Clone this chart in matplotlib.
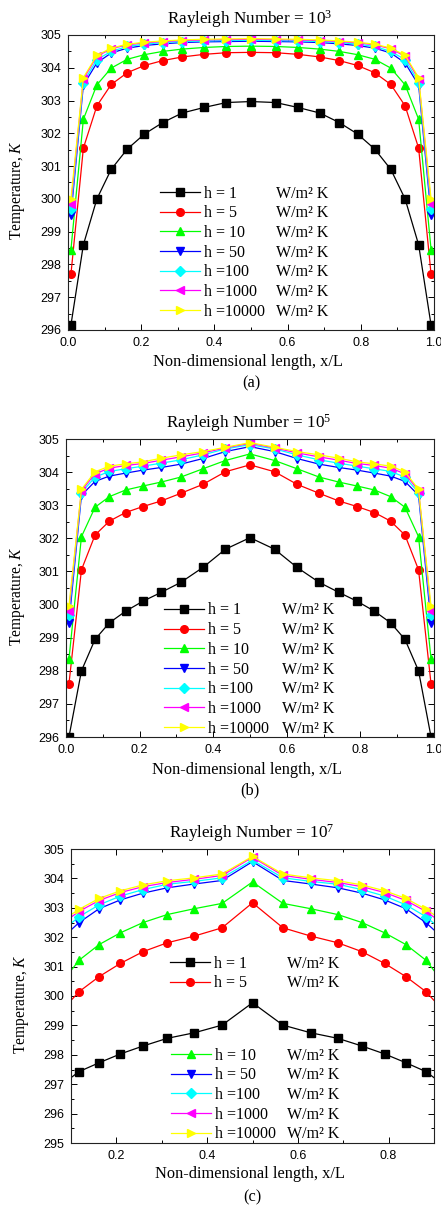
#!/usr/bin/env python3

import matplotlib as mpl
import matplotlib.pyplot as plt
from matplotlib.legend import Legend
from matplotlib.lines import Line2D
from matplotlib.ticker import MultipleLocator, FormatStrFormatter

mpl.rcParams["font.family"] = "Liberation Serif"
mpl.rcParams["mathtext.fontset"] = "custom"
mpl.rcParams["mathtext.rm"] = "Liberation Serif"
mpl.rcParams["mathtext.it"] = "Liberation Serif:italic"

# figure size in px
W, H = 441, 1207

# x positions of the data points (same grid in all three cases)
x_ab = [0.008, 0.042, 0.079, 0.118, 0.162, 0.209, 0.259, 0.312, 0.372, 0.433, 0.5,
        0.567, 0.628, 0.688, 0.741, 0.791, 0.838, 0.882, 0.921, 0.958, 0.992]
x_c = [0.079, 0.118, 0.162, 0.209, 0.259, 0.312, 0.372, 0.433, 0.5,
       0.567, 0.628, 0.688, 0.741, 0.791, 0.838, 0.882, 0.921]

h_labels = ["h = 1", "h = 5", "h = 10", "h = 50", "h =100", "h =1000", "h =10000"]
unit_label = "W/m\u00b2 K"

# Ra = 1e3
a_h1 = [296.15, 298.6, 300.0, 300.9, 301.52, 301.98, 302.33, 302.62, 302.79, 302.94, 302.97,
        302.94, 302.79, 302.62, 302.33, 301.98, 301.52, 300.9, 300.0, 298.6, 296.15]
a_h5 = [297.7, 301.55, 302.84, 303.49, 303.85, 304.07, 304.22, 304.33, 304.41, 304.46, 304.47,
        304.46, 304.41, 304.33, 304.22, 304.07, 303.85, 303.49, 302.84, 301.55, 297.7]
a_h10 = [298.45, 302.43, 303.48, 303.99, 304.26, 304.4, 304.5, 304.57, 304.62, 304.65, 304.66,
         304.65, 304.62, 304.57, 304.5, 304.4, 304.26, 303.99, 303.48, 302.43, 298.45]
a_h50 = [299.5, 303.47, 304.15, 304.45, 304.6, 304.68, 304.73, 304.77, 304.79, 304.8, 304.81,
         304.8, 304.79, 304.77, 304.73, 304.68, 304.6, 304.45, 304.15, 303.47, 299.5]
a_h100 = [299.68, 303.55, 304.25, 304.5, 304.65, 304.72, 304.77, 304.8, 304.82, 304.83, 304.84,
          304.83, 304.82, 304.8, 304.77, 304.72, 304.65, 304.5, 304.25, 303.55, 299.68]
a_h1000 = [299.85, 303.65, 304.35, 304.58, 304.7, 304.76, 304.8, 304.83, 304.85, 304.86, 304.87,
           304.86, 304.85, 304.83, 304.8, 304.76, 304.7, 304.58, 304.35, 303.65, 299.85]
a_h10000 = [300.0, 303.7, 304.38, 304.6, 304.72, 304.78, 304.82, 304.85, 304.87, 304.88, 304.89,
            304.88, 304.87, 304.85, 304.82, 304.78, 304.72, 304.6, 304.38, 303.7, 300.0]

# Ra = 1e5
b_h1 = [296.0, 298.0, 298.95, 299.45, 299.8, 300.1, 300.37, 300.67, 301.12, 301.67, 302.02,
        301.67, 301.12, 300.67, 300.37, 300.1, 299.8, 299.45, 298.95, 298.0, 296.0]
b_h5 = [297.6, 301.05, 302.1, 302.52, 302.78, 302.96, 303.13, 303.36, 303.63, 304.01, 304.22,
        304.01, 303.63, 303.36, 303.13, 302.96, 302.78, 302.52, 302.1, 301.05, 297.6]
b_h10 = [298.35, 302.05, 302.94, 303.26, 303.46, 303.58, 303.7, 303.85, 304.1, 304.35, 304.55,
         304.35, 304.1, 303.85, 303.7, 303.58, 303.46, 303.26, 302.94, 302.05, 298.35]
b_h50 = [299.45, 303.3, 303.72, 303.88, 303.97, 304.06, 304.14, 304.24, 304.41, 304.62, 304.77,
         304.62, 304.41, 304.24, 304.14, 304.06, 303.97, 303.88, 303.72, 303.3, 299.45]
b_h100 = [299.68, 303.38, 303.85, 304.02, 304.1, 304.18, 304.27, 304.37, 304.52, 304.7, 304.83,
          304.7, 304.52, 304.37, 304.27, 304.18, 304.1, 304.02, 303.85, 303.38, 299.68]
b_h1000 = [299.82, 303.44, 303.95, 304.12, 304.2, 304.26, 304.36, 304.46, 304.58, 304.73, 304.87,
           304.73, 304.58, 304.46, 304.36, 304.26, 304.2, 304.12, 303.95, 303.44, 299.82]
b_h10000 = [299.95, 303.48, 304.01, 304.18, 304.25, 304.31, 304.42, 304.52, 304.62, 304.75, 304.89,
            304.75, 304.62, 304.52, 304.42, 304.31, 304.25, 304.18, 304.01, 303.48, 299.95]

# Ra = 1e7
c_h1 = [296.98, 297.43, 297.73, 298.03, 298.3, 298.56, 298.75, 299.01, 299.77,
        299.01, 298.75, 298.56, 298.3, 298.03, 297.73, 297.43, 296.98]
c_h5 = [299.5, 300.15, 300.66, 301.11, 301.51, 301.81, 302.04, 302.32, 303.17,
        302.32, 302.04, 301.81, 301.51, 301.11, 300.66, 300.15, 299.5]
c_h10 = [300.45, 301.22, 301.75, 302.15, 302.5, 302.77, 302.97, 303.15, 303.88,
         303.15, 302.97, 302.77, 302.5, 302.15, 301.75, 301.22, 300.45]
c_h50 = [301.95, 302.5, 302.97, 303.27, 303.5, 303.68, 303.81, 303.93, 304.57,
         303.93, 303.81, 303.68, 303.5, 303.27, 302.97, 302.5, 301.95]
c_h100 = [302.2, 302.7, 303.1, 303.4, 303.62, 303.8, 303.9, 304.02, 304.62,
          304.02, 303.9, 303.8, 303.62, 303.4, 303.1, 302.7, 302.2]
c_h1000 = [302.45, 302.88, 303.25, 303.52, 303.72, 303.86, 303.97, 304.1, 304.72,
           304.1, 303.97, 303.86, 303.72, 303.52, 303.25, 302.88, 302.45]
c_h10000 = [302.55, 302.95, 303.32, 303.58, 303.78, 303.92, 304.02, 304.15, 304.75,
            304.15, 304.02, 303.92, 303.78, 303.58, 303.32, 302.95, 302.55]

colors = ["black", "red", "#00ff00", "blue", "cyan", "magenta", "yellow"]
markers = ["s", "o", "^", "v", "D", "<", ">"]

TITLE_FS = 12.3
XLAB_FS = 11.8
YLAB_FS = 11.2
LEG_FS = 11.5
TICK_FS = 9.0


def fx(px):
    return px / W


def fy(py):
    return 1 - py / H


def add_legend(ax, fig, lines, labels, x_h, x_w, y_top):
    # two legends side by side: handles + "h = .." and the unit column
    opts = dict(loc="upper left", bbox_transform=fig.transFigure, frameon=False,
                borderpad=0, borderaxespad=0, labelspacing=0.23, fontsize=LEG_FS)
    leg = Legend(ax, lines, labels, bbox_to_anchor=(fx(x_h), fy(y_top)),
                 handlelength=2.5, handletextpad=0.25, numpoints=1, **opts)
    ax.add_artist(leg)
    blank = [Line2D([], [], ls="none") for _ in labels]
    leg2 = Legend(ax, blank, [unit_label] * len(labels), bbox_to_anchor=(fx(x_w), fy(y_top)),
                  handlelength=0, handletextpad=0, **opts)
    ax.add_artist(leg2)


def draw_panel(fig, rect, x, series, ra, xlim, ylim, xticks, caption, ylab_x, texts_y, legends):
    l, t, r, b = rect
    ax = fig.add_axes([fx(l), fy(b), fx(r) - fx(l), (b - t) / H])
    lines = []
    for y, c, m in zip(series, colors, markers):
        ln, = ax.plot(x, y, color=c, marker=m, markersize=5.5, lw=0.9,
                      markeredgecolor=c, markerfacecolor=c)
        lines.append(ln)

    ax.set_xlim(xlim)
    ax.set_ylim(ylim)
    ax.set_xticks(xticks)
    ax.xaxis.set_minor_locator(MultipleLocator(0.1))
    ax.yaxis.set_major_locator(MultipleLocator(1))
    ax.yaxis.set_minor_locator(MultipleLocator(0.5))
    ax.xaxis.set_major_formatter(FormatStrFormatter("%.1f"))
    ax.yaxis.set_major_formatter(FormatStrFormatter("%d"))
    ax.tick_params(which="both", direction="in", top=True, right=True, width=0.7)
    ax.tick_params(which="major", length=4, labelsize=TICK_FS, pad=5)
    ax.tick_params(which="minor", length=2)
    for lab in ax.get_xticklabels() + ax.get_yticklabels():
        lab.set_fontfamily("Liberation Sans")
    for s in ax.spines.values():
        s.set_linewidth(0.8)
        s.set_color("#222222")

    cx = (l + r) / 2
    title_y, xlab_y, cap_y = texts_y
    fig.text(fx(cx - 1), fy(title_y), "Rayleigh Number = 10$^{%d}$" % ra,
             ha="center", va="center", fontsize=TITLE_FS)
    fig.text(fx(cx - 3), fy(xlab_y), "Non-dimensional length, x/L",
             ha="center", va="center", fontsize=XLAB_FS)
    fig.text(fx(cx), fy(cap_y), caption, ha="center", va="center", fontsize=XLAB_FS)
    fig.text(fx(ylab_x), fy((t + b) / 2 + 8), "Temperature, $K$", rotation=90,
             ha="center", va="center", fontsize=YLAB_FS)

    for idx, x_h, x_w, y_top in legends:
        add_legend(ax, fig, [lines[i] for i in idx], [h_labels[i] for i in idx], x_h, x_w, y_top)
    return ax


def main():
    fig = plt.figure(figsize=(W / 100, H / 100), dpi=100)

    draw_panel(fig, (68, 35, 434, 330), x_ab,
               [a_h1, a_h5, a_h10, a_h50, a_h100, a_h1000, a_h10000], 3,
               (0, 1), (296, 305), [0, 0.2, 0.4, 0.6, 0.8, 1.0], "(a)", 18,
               (19, 362, 383), [(range(7), 160, 276, 185.5)])

    draw_panel(fig, (66, 439, 434, 737), x_ab,
               [b_h1, b_h5, b_h10, b_h50, b_h100, b_h1000, b_h10000], 5,
               (0, 1), (296, 305), [0, 0.2, 0.4, 0.6, 0.8, 1.0], "(b)", 18,
               (423, 770, 790), [(range(7), 164, 282, 602.5)])

    draw_panel(fig, (71, 849, 434, 1143), x_c,
               [c_h1, c_h5, c_h10, c_h50, c_h100, c_h1000, c_h10000], 7,
               (0.1, 0.9), (295, 305), [0.2, 0.4, 0.6, 0.8], "(c)", 22,
               (833, 1174, 1197), [([0, 1], 170, 287, 955.5), (range(2, 7), 171, 287, 1047.5)])

    fig.savefig("out.png", dpi=100)


main()
